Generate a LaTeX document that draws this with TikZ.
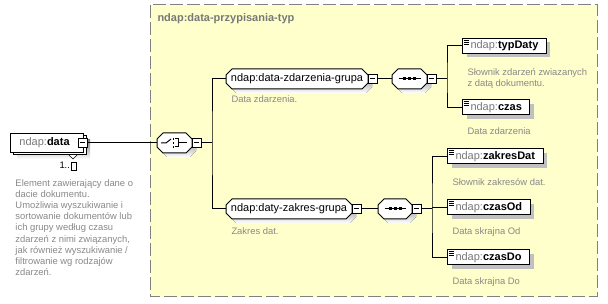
\documentclass[tikz,border=0pt]{standalone}
\usepackage{fontspec}
\setmainfont{Liberation Sans}
\usetikzlibrary{shadows}

\definecolor{panel}{RGB}{255,255,204}
\definecolor{panelrule}{RGB}{128,128,128}
\definecolor{desc}{RGB}{136,136,136}
\definecolor{prefix}{RGB}{120,120,120}
\definecolor{shade}{RGB}{192,192,192}

% octagon outline between (x1,y1) and (x2,y2), y growing downwards
\newcommand\octpath[4]{({#1+6},{#2}) -- ({#3-6},{#2}) -- ({#3},{#2+6}) -- ({#3},{#4-6}) -- ({#3-6},{#4}) -- ({#1+6},{#4}) -- ({#1},{#4-6}) -- ({#1},{#2+6}) -- cycle}
% shadowed octagon with a named node on top
\newcommand\octnode[6]{%
  \fill[shade,shift={(4,4)}] \octpath{#2}{#3}{#4}{#5};
  \draw[fill=white] \octpath{#2}{#3}{#4}{#5};
  \node[lbl, minimum width={(#4-#2)*1pt}, minimum height={(#5-#3)*1pt}] (#1) at ({(#2+#4)/2},{(#3+#5)/2}) {#6};}
% sequence symbol inside an octagon node
\newcommand\seqicon[1]{%
  \draw ([xshift=7pt]#1.west) -- ([xshift=-7pt]#1.east);
  \foreach \d in {-5,0,5}
    \fill ([xshift={\d*1pt-1.5pt},yshift=-1.5pt]#1.center) rectangle ++(3,-3);}
% list icon in the corner of an element box
\newcommand\elicon[1]{%
  \foreach \k in {2,4,6}
    \draw[line width=0.8pt] ([xshift=1.5pt,yshift=-\k pt]#1.north west) -- ++(5,0);}

\tikzset{
  every node/.style={inner sep=0pt},
  lbl/.style={font=\fontsize{11}{13}\selectfont, text height=8pt, text depth=2.3pt},
  desc/.style={font=\fontsize{9.4}{11.1}\selectfont, text=desc, anchor=west, text height=7pt, text depth=2pt},
  descblock/.style={font=\fontsize{9.4}{11.1}\selectfont, text=desc, anchor=north west, align=left},
  elem/.style={lbl, draw, fill=white, anchor=west, minimum height=15pt, inner xsep=8pt,
    drop shadow={shadow xshift=4pt, shadow yshift=-4pt, fill=shade, opacity=1}},
  minus/.style={draw, fill=white, minimum size=9pt,
    path picture={\draw ([xshift=2pt]path picture bounding box.west) -- ([xshift=-2pt]path picture bounding box.east);}},
}

\begin{document}
\begin{tikzpicture}[x=1pt,y=-1pt,line width=1pt]
\useasboundingbox (0,0) rectangle (608,304);

% complex type panel
\draw[panelrule, fill=panel, dash pattern=on 13pt off 4pt] (150,5) rectangle (597,297);
\node[anchor=west, font=\bfseries\fontsize{11}{13}\selectfont, text=prefix] (title) at (157,19) {ndap:data-przypisania-typ};

% root element with multiple occurrence
\fill[shade] (17,140) rectangle (90,159);
\draw[fill=white] (13,136) rectangle (86,155);
\node[draw, fill=white, anchor=north west, minimum width=73pt, minimum height=19pt] (data) at (10,133) {};
\node[lbl, anchor=west] (datalbl) at (19,143) {{\color{prefix}ndap:}\textbf{data}};
\node[minus] (m0) at (82.5,143) {};
\draw[line width=0.7pt, fill=white] (68.5,154.5) -- (77.5,154.5) -- (73,159) -- cycle;
\node[anchor=west, font=\fontsize{9.4}{11}\selectfont, text height=7pt, text depth=2pt] (occ) at (59,166) {1..};
\draw[line width=0.7pt] ([xshift=0.8pt,yshift=3.5pt]occ.east) rectangle ++(5,7.5);
\node[descblock] (datadesc) at (15,179.2) {Element zawierający dane o\\dacie dokumentu.\\Umożliwia wyszukiwanie i\\sortowanie dokumentów lub\\ich grupy według czasu\\zdarzeń z nimi związanych,\\jak również wyszukiwanie /\\filtrowanie wg rodzajów\\zdarzeń.};

% choice compositor
\octnode{choice}{157}{133}{192}{153}{}
\draw (161,143) -- (166,143) -- (171,139);
\foreach \yy in {139,143,147} \fill (172.5,\yy-0.8) rectangle ++(1.6,1.6);
\draw (175,139) -- (178,139) -- (178,147) -- (175,147);
\draw (178,143) -- (187,143);
\node[minus] (mc) at (196.5,143) {};
\draw (m0.east) -- (choice.west);
\coordinate (t0) at (212,143);
\draw (mc.east) -- (t0);

% first group
\octnode{g1}{226}{69}{368}{89}{ndap:data-zdarzenia-grupa}
\node[minus] (mg1) at (372.5,79) {};
\node[desc] (g1desc) at (231,100) {Data zdarzenia.};
\octnode{s1}{392}{69}{427}{89}{}
\seqicon{s1}
\node[minus] (ms1) at (431.5,79) {};
\draw (mg1.east) -- (s1.west);
\coordinate (t1) at (447,79);
\draw (ms1.east) -- (t1);

% second group
\octnode{g2}{226}{199}{352}{219}{ndap:daty-zakres-grupa}
\node[minus] (mg2) at (356.5,209) {};
\node[desc] (g2desc) at (231,232) {Zakres dat.};
\octnode{s2}{378}{199}{412}{219}{}
\seqicon{s2}
\node[minus] (ms2) at (416.5,209) {};
\draw (mg2.east) -- (s2.west);
\coordinate (t2) at (432,209);
\draw (ms2.east) -- (t2);

\draw (g1.west) -| (t0) |- (g2.west);

% elements of the first group
\node[elem] (typDaty) at (462,46) {{\color{prefix}ndap:}\textbf{typDaty}};
\elicon{typDaty}
\node[descblock] (typDesc) at (467,68.3) {Słownik zdarzeń zwiazanych\\z datą dokumentu.};
\node[elem] (czas) at (462,107.5) {{\color{prefix}ndap:}\textbf{czas}};
\elicon{czas}
\node[desc] (czasDesc) at (467,132) {Data zdarzenia};
\draw (typDaty.west) -| (t1) |- (czas.west);

% elements of the second group
\node[elem] (zakresDat) at (447,156.5) {{\color{prefix}ndap:}\textbf{zakresDat}};
\elicon{zakresDat}
\node[desc] (zakresDesc) at (452,183) {Słownik zakresów dat.};
\node[elem] (czasOd) at (447,207.5) {{\color{prefix}ndap:}\textbf{czasOd}};
\elicon{czasOd}
\node[desc] (odDesc) at (452,232) {Data skrajna Od};
\node[elem] (czasDo) at (447,257.5) {{\color{prefix}ndap:}\textbf{czasDo}};
\elicon{czasDo}
\node[desc] (doDesc) at (452,282) {Data skrajna Do};
\draw (zakresDat.west) -| (t2) |- (czasDo.west);
\draw (czasOd.west) -- (t2 |- czasOd.west);
\end{tikzpicture}
\end{document}
